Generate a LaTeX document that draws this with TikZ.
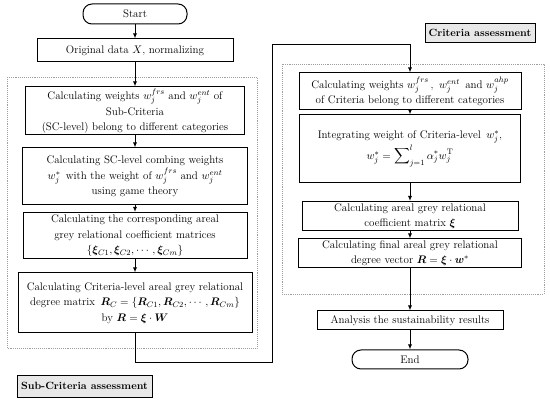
\documentclass[tikz,border=0pt]{standalone}
\usepackage{amsmath}
\usepackage{bm}
\usetikzlibrary{arrows.meta}
\tikzstyle{term} = [draw,line width=1pt,rounded corners=9pt,inner sep=0pt,font=\fontsize{11}{15}\selectfont]
\tikzstyle{procbox} = [draw,line width=1pt,align=center,inner sep=0pt,font=\fontsize{11}{15.5}\selectfont]
\tikzstyle{tagbox} = [draw,line width=0.6pt,fill=gray!18,inner sep=0pt,font=\bfseries\fontsize{10.5}{13}\selectfont]
\tikzstyle{area} = [draw=gray!75,densely dotted,line width=0.9pt]
\tikzstyle{arr} = [-{Latex[length=5pt,width=4pt]},line width=1pt]

\begin{document}
\begin{tikzpicture}[x=1pt,y=-1pt]
\useasboundingbox (0,0) rectangle (550,401);

% dotted frames of the two stages
\draw[area] (7,77) rectangle (257,348);
\draw[area] (282,64) rectangle (544,294);

% left column
\node [term,minimum width=104pt,minimum height=20pt] (start) at (135,14) {Start};
\node [procbox,minimum width=196pt,minimum height=23pt] (orig) at (135,50.5) {Original data $X$, normalizing};
\node [procbox,minimum width=219pt,minimum height=48pt] (sc1) at (135,111) {Calculating weights $w_j^{frs}$ and $w_j^{ent}$ of\\Sub-Criteria\\(SC-level) belong to different categories};
\node [procbox,minimum width=225pt,minimum height=57pt] (sc2) at (135,176.5) {Calculating SC-level combing weights\\$w_j^{*}$\, with the weight of $w_j^{frs}$ and $w_j^{ent}$\\using game theory};
\node [procbox,minimum width=224pt,minimum height=46pt] (sc3) at (135,235.5) {Calculating the corresponding areal\\grey relational coefficient matrices\\$\{\bm{\xi}_{C1},\bm{\xi}_{C2},\cdots,\bm{\xi}_{Cm}\}$};
\node [procbox,minimum width=234pt,minimum height=60pt] (sc4) at (135,303) {Calculating Criteria-level areal grey relational\\degree matrix\, $\bm{R}_C=\{\bm{R}_{C1},\bm{R}_{C2},\cdots,\bm{R}_{Cm}\}$\\by $\bm{R}=\bm{\xi}\cdot\bm{W}$};

% right column
\node [procbox,minimum width=222pt,minimum height=37pt] (cr1) at (410,91.5) {Calculating weights $w_j^{frs}$\,,\, $w_j^{ent}$\, and $w_j^{ahp}$\\of Criteria belong to different categories};
\node [procbox,minimum width=221pt,minimum height=68pt] (cr2) at (410,149) {Integrating weight of Criteria-level\, $w_j^{*}$,\\[1pt]$w_j^{*}=\displaystyle\sum\nolimits_{j=1}^{l}\alpha_j^{*}w_j^{\mathrm{T}}$};
\node [procbox,minimum width=216pt,minimum height=29pt] (cr3) at (410,216) {Calculating areal grey relational\\[-1pt]coefficient matrix $\bm{\xi}$};
\node [procbox,minimum width=223pt,minimum height=29pt] (cr4) at (410,253.5) {Calculating final areal grey relational\\[-1pt]degree vector $\bm{R}=\bm{\xi}\cdot\bm{w}^{*}$};
\node [procbox,minimum width=186pt,minimum height=19pt] (res) at (410,320.5) {Analysis the sustainability results};
\node [term,minimum width=116pt,minimum height=19pt] (end) at (410,359.5) {End};

% stage labels
\node [tagbox,minimum width=110pt,minimum height=19pt] (crittag) at (480,32.5) {Criteria assessment};
\node [tagbox,minimum width=135pt,minimum height=22pt] (subtag) at (84.5,386) {Sub-Criteria assessment};

\coordinate (upturn) at (272,45);

\draw[arr] (start) -- (orig);
\draw[arr] (orig) -- (sc1);
\draw[arr] (sc1) -- (sc2);
\draw[arr] (sc2) -- (sc3);
\draw[arr] (sc3) -- (sc4);
\draw[arr] (sc4.south) -- ++(0,29) -| (upturn) -| (cr1.north);
\draw[arr] (cr1) -- (cr2);
\draw[arr] (cr2) -- (cr3);
\draw[arr] (cr3) -- (cr4);
\draw[arr] (cr4) -- (res);
\draw[arr] (res) -- (end);

\end{tikzpicture}
\end{document}
